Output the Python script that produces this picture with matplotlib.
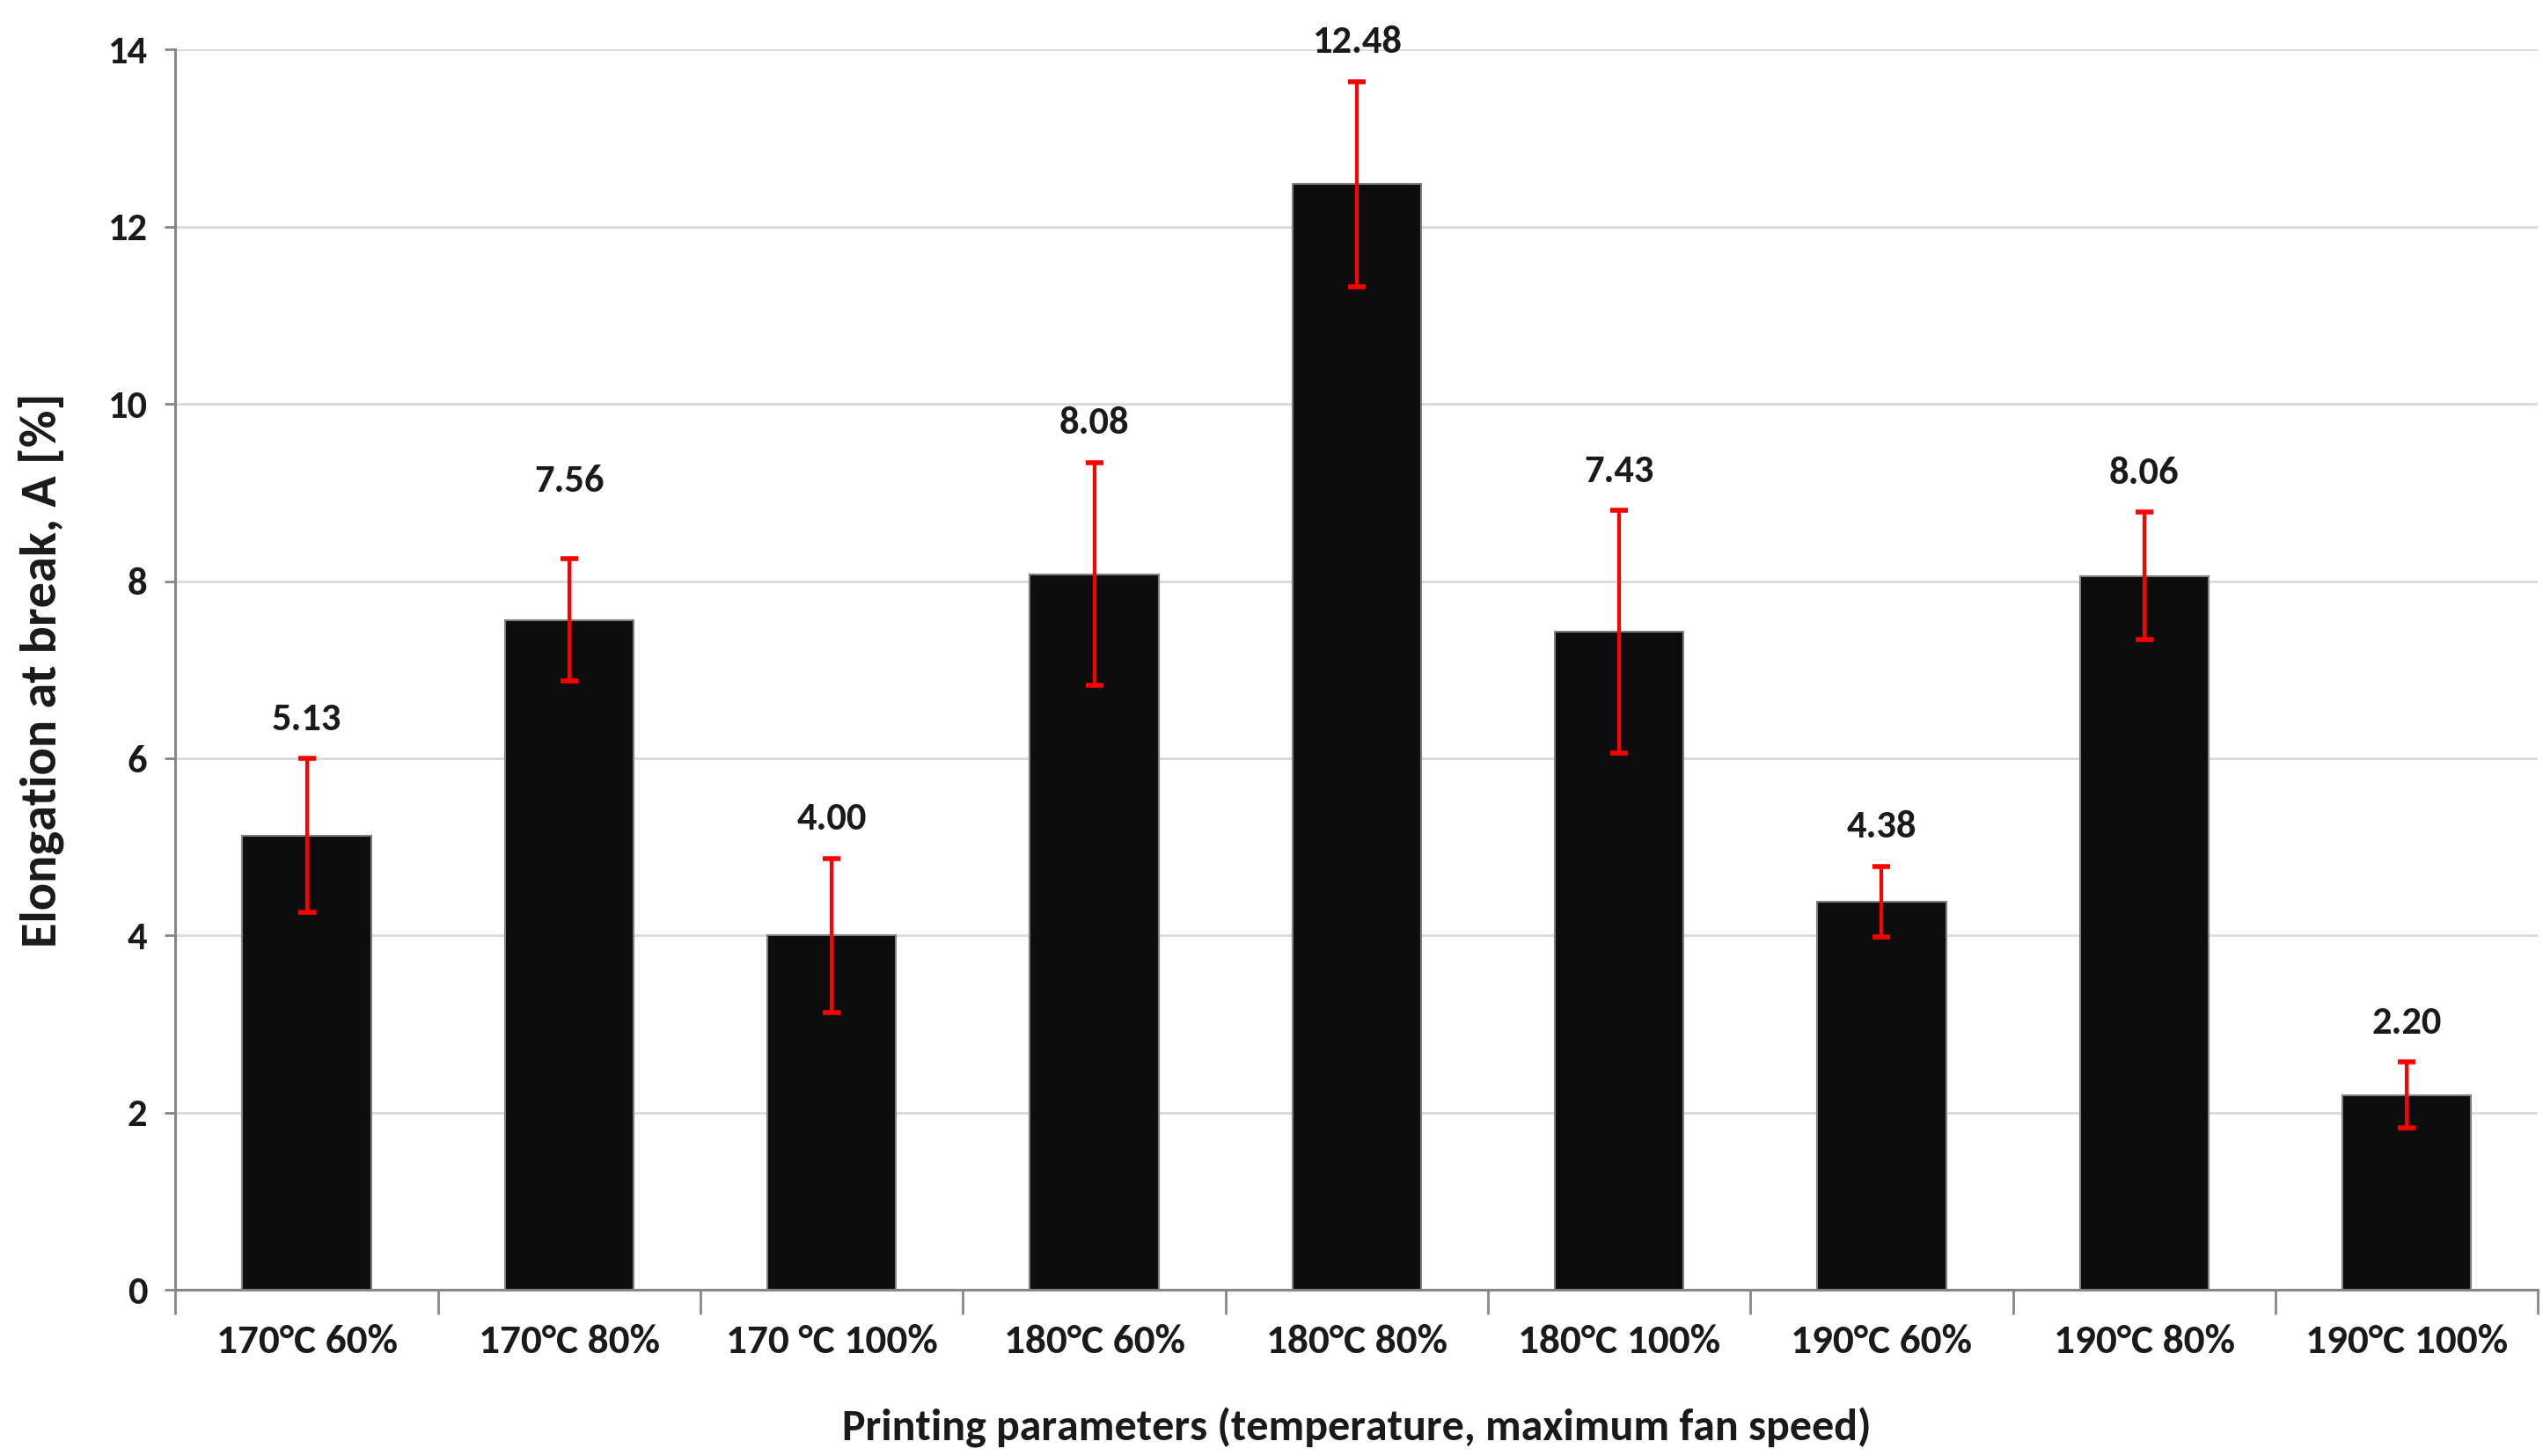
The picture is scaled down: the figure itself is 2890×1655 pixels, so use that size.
import numpy as np
import matplotlib
matplotlib.use("Agg")
import matplotlib.pyplot as plt

# Data
categories = ['170°C 60%', '170°C 80%', '170 °C 100%', '180°C 60%', '180°C 80%',
              '180°C 100%', '190°C 60%', '190°C 80%', '190°C 100%']
elongation = [5.13, 7.56, 4.00, 8.08, 12.48, 7.43, 4.38, 8.06, 2.20]
std_dev = [0.87, 0.69, 0.87, 1.26, 1.16, 1.37, 0.40, 0.72, 0.37]
y_ticks = [0, 2, 4, 6, 8, 10, 12, 14]

plt.rcParams['font.family'] = ['Carlito', 'Lato', 'DejaVu Sans']
plt.rcParams['font.weight'] = 'bold'

fig = plt.figure(figsize=(28.9, 16.55), dpi=100)
ax = fig.add_axes([0.069, 0.114, 0.929, 0.852])

x = np.arange(len(categories))
ax.bar(x, elongation, width=0.49, color='#0d0d0d', edgecolor='#808080',
       linewidth=1.5, zorder=3)
ax.errorbar(x, elongation, yerr=std_dev, fmt='none', ecolor='#ff0000',
            elinewidth=3, capsize=7, capthick=4, zorder=4)

# value labels above the error bars (the 7.56 label sits a bit higher)
for i, (v, e) in enumerate(zip(elongation, std_dev)):
    lift = 64 if i == 1 else 32
    ax.annotate(f'{v:.2f}', (i, v + e), xytext=(0, lift), textcoords='offset points',
                ha='center', va='center', fontsize=32, fontweight='bold',
                color='#1a1a1a')

ax.set_xlim(-0.5, len(categories) - 0.5)
ax.set_ylim(0, 14)
ax.set_yticks(y_ticks)
ax.set_xticks(x)
ax.set_xticklabels(categories)
ax.set_xticks(np.arange(len(categories) + 1) - 0.5, minor=True)

ax.grid(axis='y', color='#d9d9d9', linewidth=2, zorder=0)
ax.set_axisbelow(True)

for side in ['top', 'right']:
    ax.spines[side].set_visible(False)
for side in ['left', 'bottom']:
    ax.spines[side].set_color('#868686')
    ax.spines[side].set_linewidth(2.2)

ax.tick_params(axis='y', which='major', length=9, width=2, color='#868686',
               labelsize=32, pad=14, labelcolor='#1a1a1a')
ax.tick_params(axis='x', which='major', length=0, labelsize=34, pad=28,
               labelcolor='#1a1a1a')
ax.tick_params(axis='x', which='minor', length=20, width=2, color='#868686')

ax.set_ylabel('Elongation at break, A [%]', fontsize=42, fontweight='bold',
              color='#1a1a1a')
ax.set_xlabel('Printing parameters (temperature, maximum fan speed)', fontsize=36,
              fontweight='bold', color='#1a1a1a')
ax.yaxis.set_label_coords(-0.057, 0.5)
ax.xaxis.set_label_coords(0.5, -0.111)
ax.xaxis.label.set_va('center')
ax.yaxis.label.set_va('center')

fig.savefig('out.png', dpi=100, facecolor='white')
